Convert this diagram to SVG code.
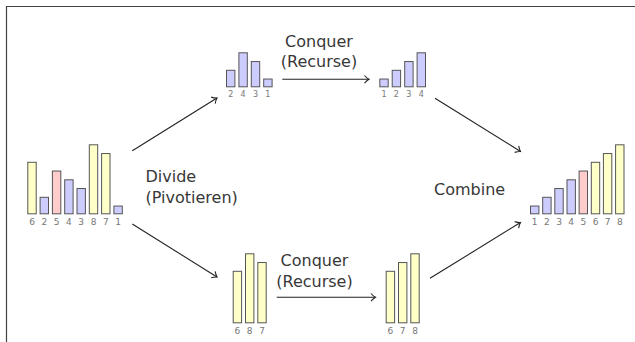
<svg xmlns="http://www.w3.org/2000/svg" width="635" height="342" viewBox="0 0 635 342">
  <style>
    .bar { stroke: #555; stroke-width: 1; }
    .lo { fill: #ccccff; }
    .pv { fill: #ffcccc; }
    .hi { fill: #ffffc8; }
    .num { font-family: "DejaVu Sans", sans-serif; font-size: 9px; fill: #777; text-anchor: middle; }
    .num.sm { font-size: 8px; }
    .lbl { font-family: "DejaVu Sans", sans-serif; font-size: 16px; fill: #383838; }
    .edge { stroke: #222; stroke-width: 1.1; fill: none; marker-end: url(#tip); }
  </style>
  <defs>
    <marker id="tip" viewBox="-6 -5 8 10" markerWidth="8" markerHeight="10" refX="0" refY="0" orient="auto" markerUnits="userSpaceOnUse">
      <path d="M-4.5,-3.8 Q-2,-1 0,0 Q-2,1 -4.5,3.8" fill="none" stroke="#222" stroke-width="1.1"/>
    </marker>
  </defs>

  <rect width="635" height="342" fill="#fff"/>
  <!-- frame -->
  <path d="M6.5,342 V6.5 H635" fill="none" stroke="#444" stroke-width="1.2"/>

  <!-- input array: 6 2 5 4 3 8 7 1 (base 214.3, 8.75 per unit) -->
  <g id="input">
    <rect class="bar hi" x="27.8"  y="162.3" width="8.4" height="51.5"/>
    <rect class="bar lo" x="40.1"  y="197.3" width="8.4" height="16.5"/>
    <rect class="bar pv" x="52.4"  y="171.05" width="8.4" height="42.75"/>
    <rect class="bar lo" x="64.7"  y="179.8" width="8.4" height="34"/>
    <rect class="bar lo" x="77.0"  y="188.55" width="8.4" height="25.25"/>
    <rect class="bar hi" x="89.3"  y="144.8" width="8.4" height="69"/>
    <rect class="bar hi" x="101.6" y="153.55" width="8.4" height="60.25"/>
    <rect class="bar lo" x="113.9" y="206.05" width="8.4" height="7.75"/>
    <text class="num" x="32"    y="225.3">6</text>
    <text class="num" x="44.3"  y="225.3">2</text>
    <text class="num" x="56.6"  y="225.3">5</text>
    <text class="num" x="68.9"  y="225.3">4</text>
    <text class="num" x="81.2"  y="225.3">3</text>
    <text class="num" x="93.5"  y="225.3">8</text>
    <text class="num" x="105.8" y="225.3">7</text>
    <text class="num" x="118.1" y="225.3">1</text>
  </g>

  <!-- lower partition before recursion: 2 4 3 1 (base 87.3) -->
  <g id="low-split">
    <rect class="bar lo" x="226.5" y="70.3"  width="8.4" height="16.5"/>
    <rect class="bar lo" x="238.9" y="52.8"  width="8.4" height="34"/>
    <rect class="bar lo" x="251.3" y="61.55" width="8.4" height="25.25"/>
    <rect class="bar lo" x="263.7" y="79.05" width="8.4" height="7.75"/>
    <text class="num sm" x="230.7" y="96.7">2</text>
    <text class="num sm" x="243.1" y="96.7">4</text>
    <text class="num sm" x="255.5" y="96.7">3</text>
    <text class="num sm" x="267.9" y="96.7">1</text>
  </g>

  <!-- lower partition sorted: 1 2 3 4 -->
  <g id="low-sorted">
    <rect class="bar lo" x="379.8" y="79.05" width="8.4" height="7.75"/>
    <rect class="bar lo" x="392.2" y="70.3"  width="8.4" height="16.5"/>
    <rect class="bar lo" x="404.7" y="61.55" width="8.4" height="25.25"/>
    <rect class="bar lo" x="417.1" y="52.8"  width="8.4" height="34"/>
    <text class="num sm" x="384"   y="96.7">1</text>
    <text class="num sm" x="396.4" y="96.7">2</text>
    <text class="num sm" x="408.9" y="96.7">3</text>
    <text class="num sm" x="421.3" y="96.7">4</text>
  </g>

  <!-- upper partition before recursion: 6 8 7 (base 323.3) -->
  <g id="high-split">
    <rect class="bar hi" x="233.2" y="271.3"  width="8.4" height="51.5"/>
    <rect class="bar hi" x="245.5" y="253.8"  width="8.4" height="69"/>
    <rect class="bar hi" x="257.8" y="262.55" width="8.4" height="60.25"/>
    <text class="num" x="237.4" y="334.3">6</text>
    <text class="num" x="249.7" y="334.3">8</text>
    <text class="num" x="262"   y="334.3">7</text>
  </g>

  <!-- upper partition sorted: 6 7 8 -->
  <g id="high-sorted">
    <rect class="bar hi" x="386.2" y="271.3"  width="8.4" height="51.5"/>
    <rect class="bar hi" x="398.5" y="262.55" width="8.4" height="60.25"/>
    <rect class="bar hi" x="410.8" y="253.8"  width="8.4" height="69"/>
    <text class="num" x="390.4" y="334.3">6</text>
    <text class="num" x="402.7" y="334.3">7</text>
    <text class="num" x="415"   y="334.3">8</text>
  </g>

  <!-- result array: 1 2 3 4 5 6 7 8 -->
  <g id="result">
    <rect class="bar lo" x="530.5" y="206.05" width="8.4" height="7.75"/>
    <rect class="bar lo" x="542.7" y="197.3"  width="8.4" height="16.5"/>
    <rect class="bar lo" x="554.8" y="188.55" width="8.4" height="25.25"/>
    <rect class="bar lo" x="567.0" y="179.8"  width="8.4" height="34"/>
    <rect class="bar pv" x="579.1" y="171.05" width="8.4" height="42.75"/>
    <rect class="bar hi" x="591.3" y="162.3"  width="8.4" height="51.5"/>
    <rect class="bar hi" x="603.4" y="153.55" width="8.4" height="60.25"/>
    <rect class="bar hi" x="615.6" y="144.8"  width="8.4" height="69"/>
    <text class="num" x="534.7" y="225.3">1</text>
    <text class="num" x="546.9" y="225.3">2</text>
    <text class="num" x="559"   y="225.3">3</text>
    <text class="num" x="571.2" y="225.3">4</text>
    <text class="num" x="583.3" y="225.3">5</text>
    <text class="num" x="595.5" y="225.3">6</text>
    <text class="num" x="607.6" y="225.3">7</text>
    <text class="num" x="619.8" y="225.3">8</text>
  </g>

  <!-- step labels -->
  <g id="label-divide">
    <text class="lbl" x="145.5" y="182.3">Divide</text>
    <text class="lbl" x="145.5" y="203.3">(Pivotieren)</text>
  </g>
  <g id="label-conquer-top">
    <text class="lbl" x="319" y="46.6" text-anchor="middle">Conquer</text>
    <text class="lbl" x="319" y="67.3" text-anchor="middle">(Recurse)</text>
  </g>
  <g id="label-conquer-bottom">
    <text class="lbl" x="314.5" y="266" text-anchor="middle">Conquer</text>
    <text class="lbl" x="314.5" y="286.7" text-anchor="middle">(Recurse)</text>
  </g>
  <g id="label-combine">
    <text class="lbl" x="434" y="195">Combine</text>
  </g>

  <!-- connectors -->
  <g id="connectors">
    <line class="edge" x1="132.3" y1="150.7" x2="217" y2="98"/>
    <line class="edge" x1="132.3" y1="224" x2="217" y2="277"/>
    <line class="edge" x1="282.3" y1="79.3" x2="369" y2="79.3"/>
    <line class="edge" x1="276.7" y1="297.3" x2="375.5" y2="297.3"/>
    <line class="edge" x1="435" y1="98.3" x2="520.5" y2="151.5"/>
    <line class="edge" x1="430" y1="278.3" x2="520.5" y2="222.5"/>
  </g>
</svg>
